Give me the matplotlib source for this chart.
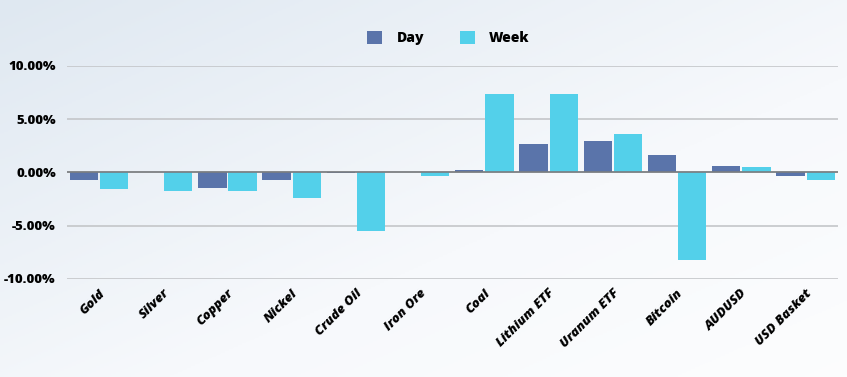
import numpy as np
import matplotlib
matplotlib.use("Agg")
import matplotlib.pyplot as plt
from matplotlib.ticker import FuncFormatter

categories = ["Gold", "Silver", "Copper", "Nickel", "Crude Oil", "Iron Ore", "Coal",
              "Lithium ETF", "Uranum ETF", "Bitcoin", "AUDUSD", "USD Basket"]
day = [-0.7, 0.0, -1.45, -0.7, -0.08, 0.0, 0.2, 2.65, 3.0, 1.6, 0.65, -0.3]
week = [-1.55, -1.7, -1.7, -2.4, -5.5, -0.3, 7.4, 7.35, 3.6, -8.2, 0.5, -0.7]

day_color = "#5a74aa"
week_color = "#53d0ea"

plt.rcParams['font.family'] = ['Open Sans', 'DejaVu Sans']

fig = plt.figure(figsize=(8.47, 3.77), dpi=100)

# soft background gradient
bg = fig.add_axes([0, 0, 1, 1], zorder=-10)
yy, xx = np.mgrid[0:1:200j, 0:1:400j]
g = 0.5 * xx + 0.5 * (1 - yy)
bg.imshow(g, cmap=matplotlib.colors.LinearSegmentedColormap.from_list(
    "bg", ["#dfe8f1", "#f7f9fc", "#ffffff"]), aspect="auto", extent=[0, 1, 0, 1],
    origin="lower", vmin=0, vmax=1.2)
bg.axis("off")

ax = fig.add_axes([0.079, 0.26, 0.91, 0.565])
ax.patch.set_alpha(0)

x = np.arange(len(categories))
w = 0.44
ax.bar(x - w / 2 - 0.015, day, w, color=day_color, label="Day", zorder=3)
ax.bar(x + w / 2 + 0.015, week, w, color=week_color, label="Week", zorder=3)

ax.set_ylim(-10, 10)
ax.set_xlim(-0.5, len(categories) - 0.5)
ax.set_yticks([-10, -5, 0, 5, 10])
ax.yaxis.set_major_formatter(FuncFormatter(lambda v, p: f"{v:.2f}%"))
ax.grid(axis="y", color="#c4c6c9", lw=1.2, zorder=0)
ax.axhline(0, color="#7a7d80", lw=1.2, zorder=4)
for s in ax.spines.values():
    s.set_visible(False)
ax.tick_params(axis="both", length=0)
ax.tick_params(axis="y", pad=8)
for t in ax.get_yticklabels():
    t.set_fontweight("heavy")
    t.set_fontsize(9.5)

ax.set_xticks(x)
ax.set_xticklabels(categories, rotation=45, ha="right", rotation_mode="anchor",
                   fontsize=9.5, fontweight="heavy", fontstyle="italic")
ax.tick_params(axis="x", pad=6)

leg = ax.legend(loc="lower center", bbox_to_anchor=(0.495, 1.04), ncol=2, frameon=False,
                prop={"weight": "heavy", "size": 10}, handlelength=1.1, handleheight=1.1,
                columnspacing=2.6, handletextpad=1.0)

fig.savefig("out.png", dpi=100)
